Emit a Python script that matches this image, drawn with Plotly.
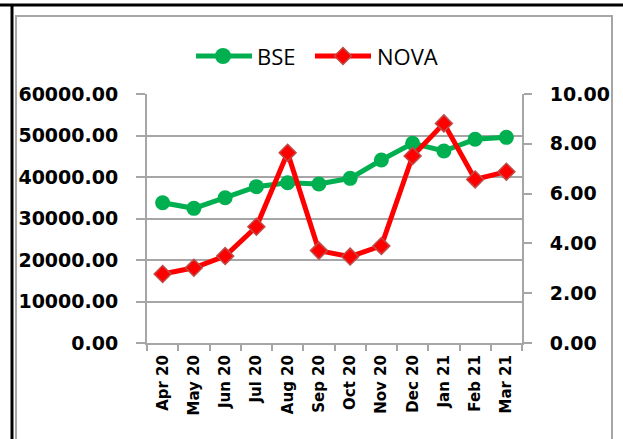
import plotly.graph_objects as go

months = ["Apr 20", "May 20", "Jun 20", "Jul 20", "Aug 20", "Sep 20",
          "Oct 20", "Nov 20", "Dec 20", "Jan 21", "Feb 21", "Mar 21"]
bse = [33800, 32450, 35010, 37670, 38630, 38310,
       39680, 44100, 48120, 46270, 49080, 49560]
nova = [2.77, 3.02, 3.49, 4.67, 7.64, 3.71,
        3.47, 3.90, 7.51, 8.82, 6.57, 6.88]
left_ticks = [0, 10000, 20000, 30000, 40000, 50000, 60000]
right_ticks = [0, 2, 4, 6, 8, 10]
series_names = ["BSE", "NOVA"]

W, H = 623, 439
L, R, T, B = 147, 101, 94, 96
pw, ph = W - L - R, H - T - B

def px(x):
    return (x - L) / pw

def py(y):
    return (H - B - y) / ph

GRID = "#a6a6a6"
GREEN = "#00b050"
RED = "#ff0000"
RED_EDGE = "#be4b48"
tickfont = dict(family="DejaVu Sans", size=19, color="black", weight="bold")

fig = go.Figure()
fig.add_trace(go.Scatter(
    x=months, y=bse, name=series_names[0], mode="lines+markers",
    line=dict(color=GREEN, width=5),
    marker=dict(symbol="circle", size=15, color=GREEN),
    yaxis="y", showlegend=False))
fig.add_trace(go.Scatter(
    x=months, y=nova, name=series_names[1], mode="lines+markers",
    line=dict(color=RED, width=5),
    marker=dict(symbol="diamond", size=13, color=RED,
                line=dict(color=RED_EDGE, width=1.5)),
    yaxis="y2", showlegend=False))

fig.update_layout(
    width=W, height=H,
    margin=dict(l=L, r=R, t=T, b=B),
    paper_bgcolor="white", plot_bgcolor="white",
    showlegend=False,
    xaxis=dict(type="category", categoryorder="array", categoryarray=months,
               tickangle=-90, tickfont=dict(family="DejaVu Sans", size=15,
                                            color="black", weight="bold"),
               showline=True, linecolor=GRID, linewidth=2,
               ticks="outside", tickson="boundaries", ticklen=6,
               tickcolor=GRID, tickwidth=2, showgrid=False,
               range=[-0.5, 11.5], ticklabelstandoff=4),
    yaxis=dict(range=[0, 60000], tickvals=left_ticks,
               ticktext=[f"{v:.2f}" for v in left_ticks],
               tickfont=tickfont, showline=True, linecolor=GRID, linewidth=2,
               ticks="outside", ticklen=9, tickcolor=GRID, tickwidth=2,
               showgrid=True, gridcolor=GRID, gridwidth=2, zeroline=False,
               ticklabelstandoff=14),
    yaxis2=dict(range=[0, 10], tickvals=right_ticks,
                ticktext=[f"{v:.2f}" for v in right_ticks],
                tickfont=tickfont, overlaying="y", side="right",
                showline=True, linecolor=GRID, linewidth=2,
                ticks="outside", ticklen=8, tickcolor=GRID, tickwidth=2,
                showgrid=False, zeroline=False, ticklabelstandoff=14),
)

shapes = [
    # outer black frame lines
    dict(type="line", xref="paper", yref="paper",
         x0=px(0), x1=px(W), y0=py(5), y1=py(5),
         line=dict(color="black", width=3)),
    dict(type="line", xref="paper", yref="paper",
         x0=px(12), x1=px(12), y0=py(5), y1=py(H + 5),
         line=dict(color="black", width=3)),
    # gray chart-area border
    dict(type="rect", xref="paper", yref="paper",
         x0=px(16), x1=px(612), y0=py(H + 10), y1=py(16),
         line=dict(color=GRID, width=2), fillcolor="rgba(0,0,0,0)",
         layer="below"),
]

# legend (drawn manually to match the long legend line keys)
LY = 56
shapes += [
    dict(type="line", xref="paper", yref="paper",
         x0=px(196), x1=px(252), y0=py(LY), y1=py(LY),
         line=dict(color=GREEN, width=5)),
    dict(type="circle", xref="paper", yref="paper",
         x0=px(215), x1=px(231), y0=py(LY + 8), y1=py(LY - 8),
         line=dict(color=GREEN, width=0), fillcolor=GREEN),
    dict(type="line", xref="paper", yref="paper",
         x0=px(315), x1=px(371), y0=py(LY), y1=py(LY),
         line=dict(color=RED, width=5)),
    dict(type="path", xref="paper", yref="paper",
         path=(f"M {px(343 - 8.5)},{py(LY)} L {px(343)},{py(LY - 8.5)} "
               f"L {px(343 + 8.5)},{py(LY)} L {px(343)},{py(LY + 8.5)} Z"),
         line=dict(color=RED_EDGE, width=1.5), fillcolor=RED),
]
fig.update_layout(shapes=shapes)

legend_font = dict(family="Open Sans", size=22, color="black")
fig.add_annotation(xref="paper", yref="paper", x=px(255), y=py(LY),
                   xanchor="left", yanchor="middle", showarrow=False,
                   text=series_names[0], font=legend_font)
fig.add_annotation(xref="paper", yref="paper", x=px(375), y=py(LY),
                   xanchor="left", yanchor="middle", showarrow=False,
                   text=series_names[1], font=legend_font)

fig.write_html("out.html",
               config={"displayModeBar": False},
               post_script="document.body.style.margin='0px';"
                           "document.body.style.padding='0px';")
